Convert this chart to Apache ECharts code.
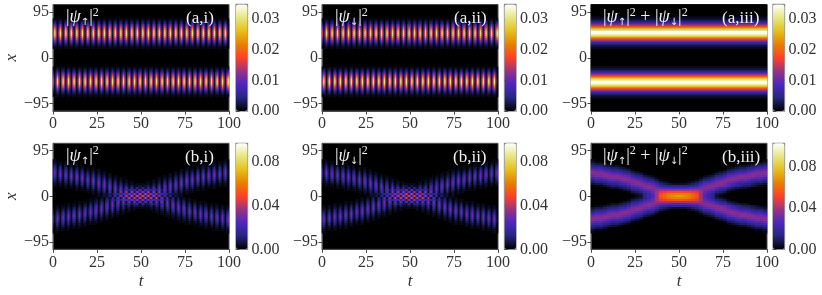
<!DOCTYPE html>
<html><head><meta charset="utf-8"><style>html,body{margin:0;background:#fff}#c{width:822px;height:295px}</style>
<script src="https://cdn.jsdelivr.net/npm/echarts@6/dist/echarts.min.js"></script></head><body><div id="c"></div><script>
const cmrMap=['#000000','#262680','#4D26BF','#993380','#FF4026','#E68000','#E6BF1A','#E6E680','#FFFFFF'];
const tickT=[0,25,50,75,100], tickX=[-95,0,95];
const tickBarA=[0,0.01,0.02,0.03], tickBarB=[0,0.04,0.08];
const unitA=0.001, unitB=0.0025;
const maxA=0.0347, maxB=0.0972, maxBSum=0.103;
// each character is one cell, base 36, in units of unitA or unitB
const sumAColumn="000000000000"+"1122457adgjnruwyyywurnjgda7542211"+"00000000000000000"+"1122457adgjnruwyyywurnjgda7542211"+"000000000000";
const sumBRows=["","","","","","","","",
"1000000000000000000000 0000000000000000000001",
"2110000000000000000000 0000000000000000000112",
"4332100000000000000000 0000000000000000012334",
"6554322100000000000000 0000000000000012234556",
"9886544321000000000000 0000000000001234456889",
"cbb9866543100000000000 0000000000013456689bbc",
"eddcb99865321000000000 0000000001235 6899bcdde",
"eeeedccb98543100000000 00000000134589bccdeeee",
"cddeeeedcb865321000000 000000123568bcdeeeeddc",
"9bbcdeeeedb98543100000 00000134589bdeeeedcbb9",
"6889bccdeedcb865310000 000013568bcdeedccb9886",
"4556899bcdeedb98532100 00123589bdeedcb9986554",
"233456689bdeedcb854322 223458bcdeedb986654332",
"0112344568bcdeedb87666 66678bdeeedcb865443211",
"000012234589bdeedcbbaa aabbcdeedb985432210000",
"0000000123568bcdfggggg gggggfdcb8653210000000",
"00000000013458acgjkllm mllkjgca85431000000000",
"000000000012368bglnpqq qqpnlgb863210000000000",
"000000000001268agmoqrs srqomga86210000000000 0",
"000000000012368bglnpqq qqpnlgb863210000000000",
"00000000013458acgjkllm mllkjgca85431000000000",
"0000000123568bcdfggggg gggggfdcb8653210000000",
"000012234589bdeedcbbaa aabbcdeedb985432210000",
"0112344568bcdeedb87666 66678bdeeedcb865443211",
"233456689bdeedcb854322 223458bcdeedb986654332",
"4556899bcdeedb98532100 00123589bdeedcb9986554",
"6889bccdeedcb865310000 000013568bcdeedccb9886",
"9bbcdeeeedb98543100000 00000134589bdeeeedcbb9",
"cddeeeedcb865321000000 000000123568bcdeeeeddc",
"eeeedccb98543100000000 00000000134589bccdeeee",
"eddcb99865321000000000 0000000001235 6899bcdde",
"cbb9866543100000000000 0000000000013456689bbc",
"9886544321000000000000 0000000000001234456889",
"6554322100000000000000 0000000000000012234556",
"4332100000000000000000 0000000000000000012334",
"2110000000000000000000 0000000000000000000112",
"1000000000000000000000 0000000000000000000001",
"","","","","","","",""];
const psiUpA=["","","","","","","",
"1110 1110 1110 1110 1110 1110 1110 1110 1110 1110 1110 1110 1110 1110 1110 1110 1110 1110 1110 1110 1110 1110 1110 1110 1110 1110 1110 1110 1110 1110 1110 1110",
"2320 2320 2320 2320 2320 2320 2320 2320 2320 2320 2320 2320 2320 2320 2320 2320 2320 2320 2320 2320 2320 2320 2320 2320 2320 2320 2320 2320 2320 2320 2320 2320",
"3730 3730 3730 3730 3730 3730 3730 3730 3730 3730 3730 3730 3730 3730 3730 3730 3730 3730 3730 3730 3730 3730 3730 3730 3730 3730 3730 3730 3730 3730 3730 3730",
"6c60 6c60 6c60 6c60 6c60 6c60 6c60 6c60 6c60 6c60 6c60 6c60 6c60 6c60 6c60 6c60 6c60 6c60 6c60 6c60 6c60 6c60 6c60 6c60 6c60 6c60 6c60 6c60 6c60 6c60 6c60 6c60",
"9i91 9i91 9i91 9i91 9i91 9i91 9i91 9i91 9i91 9i91 9i91 9i91 9i91 9i91 9i91 9i91 9i91 9i91 9i91 9i91 9i91 9i91 9i91 9i91 9i91 9i91 9i91 9i91 9i91 9i91 9i91 9i91",
"coc1 coc1 coc1 coc1 coc1 coc1 coc1 coc1 coc1 coc1 coc1 coc1 coc1 coc1 coc1 coc1 coc1 coc1 coc1 coc1 coc1 coc1 coc1 coc1 coc1 coc1 coc1 coc1 coc1 coc1 coc1 coc1",
"ete2 ete2 ete2 ete2 ete2 ete2 ete2 ete2 ete2 ete2 ete2 ete2 ete2 ete2 ete2 ete2 ete2 ete2 ete2 ete2 ete2 ete2 ete2 ete2 ete2 ete2 ete2 ete2 ete2 ete2 ete2 ete2",
"fvf2 fvf2 fvf2 fvf2 fvf2 fvf2 fvf2 fvf2 fvf2 fvf2 fvf2 fvf2 fvf2 fvf2 fvf2 fvf2 fvf2 fvf2 fvf2 fvf2 fvf2 fvf2 fvf2 fvf2 fvf2 fvf2 fvf2 fvf2 fvf2 fvf2 fvf2 fvf2",
"ete2 ete2 ete2 ete2 ete2 ete2 ete2 ete2 ete2 ete2 ete2 ete2 ete2 ete2 ete2 ete2 ete2 ete2 ete2 ete2 ete2 ete2 ete2 ete2 ete2 ete2 ete2 ete2 ete2 ete2 ete2 ete2",
"coc1 coc1 coc1 coc1 coc1 coc1 coc1 coc1 coc1 coc1 coc1 coc1 coc1 coc1 coc1 coc1 coc1 coc1 coc1 coc1 coc1 coc1 coc1 coc1 coc1 coc1 coc1 coc1 coc1 coc1 coc1 coc1",
"9i91 9i91 9i91 9i91 9i91 9i91 9i91 9i91 9i91 9i91 9i91 9i91 9i91 9i91 9i91 9i91 9i91 9i91 9i91 9i91 9i91 9i91 9i91 9i91 9i91 9i91 9i91 9i91 9i91 9i91 9i91 9i91",
"6c60 6c60 6c60 6c60 6c60 6c60 6c60 6c60 6c60 6c60 6c60 6c60 6c60 6c60 6c60 6c60 6c60 6c60 6c60 6c60 6c60 6c60 6c60 6c60 6c60 6c60 6c60 6c60 6c60 6c60 6c60 6c60",
"3730 3730 3730 3730 3730 3730 3730 3730 3730 3730 3730 3730 3730 3730 3730 3730 3730 3730 3730 3730 3730 3730 3730 3730 3730 3730 3730 3730 3730 3730 3730 3730",
"2320 2320 2320 2320 2320 2320 2320 2320 2320 2320 2320 2320 2320 2320 2320 2320 2320 2320 2320 2320 2320 2320 2320 2320 2320 2320 2320 2320 2320 2320 2320 2320",
"1110 1110 1110 1110 1110 1110 1110 1110 1110 1110 1110 1110 1110 1110 1110 1110 1110 1110 1110 1110 1110 1110 1110 1110 1110 1110 1110 1110 1110 1110 1110 1110",
"","","","","","","","","",
"1011 1011 1011 1011 1011 1011 1011 1011 1011 1011 1011 1011 1011 1011 1011 1011 1011 1011 1011 1011 1011 1011 1011 1011 1011 1011 1011 1011 1011 1011 1011 1011",
"2023 2023 2023 2023 2023 2023 2023 2023 2023 2023 2023 2023 2023 2023 2023 2023 2023 2023 2023 2023 2023 2023 2023 2023 2023 2023 2023 2023 2023 2023 2023 2023",
"3037 3037 3037 3037 3037 3037 3037 3037 3037 3037 3037 3037 3037 3037 3037 3037 3037 3037 3037 3037 3037 3037 3037 3037 3037 3037 3037 3037 3037 3037 3037 3037",
"606c 606c 606c 606c 606c 606c 606c 606c 606c 606c 606c 606c 606c 606c 606c 606c 606c 606c 606c 606c 606c 606c 606c 606c 606c 606c 606c 606c 606c 606c 606c 606c",
"919i 919i 919i 919i 919i 919i 919i 919i 919i 919i 919i 919i 919i 919i 919i 919i 919i 919i 919i 919i 919i 919i 919i 919i 919i 919i 919i 919i 919i 919i 919i 919i",
"c1co c1co c1co c1co c1co c1co c1co c1co c1co c1co c1co c1co c1co c1co c1co c1co c1co c1co c1co c1co c1co c1co c1co c1co c1co c1co c1co c1co c1co c1co c1co c1co",
"e2et e2et e2et e2et e2et e2et e2et e2et e2et e2et e2et e2et e2et e2et e2et e2et e2et e2et e2et e2et e2et e2et e2et e2et e2et e2et e2et e2et e2et e2et e2et e2et",
"f2fv f2fv f2fv f2fv f2fv f2fv f2fv f2fv f2fv f2fv f2fv f2fv f2fv f2fv f2fv f2fv f2fv f2fv f2fv f2fv f2fv f2fv f2fv f2fv f2fv f2fv f2fv f2fv f2fv f2fv f2fv f2fv",
"e2et e2et e2et e2et e2et e2et e2et e2et e2et e2et e2et e2et e2et e2et e2et e2et e2et e2et e2et e2et e2et e2et e2et e2et e2et e2et e2et e2et e2et e2et e2et e2et",
"c1co c1co c1co c1co c1co c1co c1co c1co c1co c1co c1co c1co c1co c1co c1co c1co c1co c1co c1co c1co c1co c1co c1co c1co c1co c1co c1co c1co c1co c1co c1co c1co",
"919i 919i 919i 919i 919i 919i 919i 919i 919i 919i 919i 919i 919i 919i 919i 919i 919i 919i 919i 919i 919i 919i 919i 919i 919i 919i 919i 919i 919i 919i 919i 919i",
"606c 606c 606c 606c 606c 606c 606c 606c 606c 606c 606c 606c 606c 606c 606c 606c 606c 606c 606c 606c 606c 606c 606c 606c 606c 606c 606c 606c 606c 606c 606c 606c",
"3037 3037 3037 3037 3037 3037 3037 3037 3037 3037 3037 3037 3037 3037 3037 3037 3037 3037 3037 3037 3037 3037 3037 3037 3037 3037 3037 3037 3037 3037 3037 3037",
"2023 2023 2023 2023 2023 2023 2023 2023 2023 2023 2023 2023 2023 2023 2023 2023 2023 2023 2023 2023 2023 2023 2023 2023 2023 2023 2023 2023 2023 2023 2023 2023",
"1011 1011 1011 1011 1011 1011 1011 1011 1011 1011 1011 1011 1011 1011 1011 1011 1011 1011 1011 1011 1011 1011 1011 1011 1011 1011 1011 1011 1011 1011 1011 1011",
"","","","","","",""];
const psiDownA=["","","","","","","",
"1011 1011 1011 1011 1011 1011 1011 1011 1011 1011 1011 1011 1011 1011 1011 1011 1011 1011 1011 1011 1011 1011 1011 1011 1011 1011 1011 1011 1011 1011 1011 1011",
"2023 2023 2023 2023 2023 2023 2023 2023 2023 2023 2023 2023 2023 2023 2023 2023 2023 2023 2023 2023 2023 2023 2023 2023 2023 2023 2023 2023 2023 2023 2023 2023",
"3037 3037 3037 3037 3037 3037 3037 3037 3037 3037 3037 3037 3037 3037 3037 3037 3037 3037 3037 3037 3037 3037 3037 3037 3037 3037 3037 3037 3037 3037 3037 3037",
"606c 606c 606c 606c 606c 606c 606c 606c 606c 606c 606c 606c 606c 606c 606c 606c 606c 606c 606c 606c 606c 606c 606c 606c 606c 606c 606c 606c 606c 606c 606c 606c",
"919i 919i 919i 919i 919i 919i 919i 919i 919i 919i 919i 919i 919i 919i 919i 919i 919i 919i 919i 919i 919i 919i 919i 919i 919i 919i 919i 919i 919i 919i 919i 919i",
"c1co c1co c1co c1co c1co c1co c1co c1co c1co c1co c1co c1co c1co c1co c1co c1co c1co c1co c1co c1co c1co c1co c1co c1co c1co c1co c1co c1co c1co c1co c1co c1co",
"e2et e2et e2et e2et e2et e2et e2et e2et e2et e2et e2et e2et e2et e2et e2et e2et e2et e2et e2et e2et e2et e2et e2et e2et e2et e2et e2et e2et e2et e2et e2et e2et",
"f2fv f2fv f2fv f2fv f2fv f2fv f2fv f2fv f2fv f2fv f2fv f2fv f2fv f2fv f2fv f2fv f2fv f2fv f2fv f2fv f2fv f2fv f2fv f2fv f2fv f2fv f2fv f2fv f2fv f2fv f2fv f2fv",
"e2et e2et e2et e2et e2et e2et e2et e2et e2et e2et e2et e2et e2et e2et e2et e2et e2et e2et e2et e2et e2et e2et e2et e2et e2et e2et e2et e2et e2et e2et e2et e2et",
"c1co c1co c1co c1co c1co c1co c1co c1co c1co c1co c1co c1co c1co c1co c1co c1co c1co c1co c1co c1co c1co c1co c1co c1co c1co c1co c1co c1co c1co c1co c1co c1co",
"919i 919i 919i 919i 919i 919i 919i 919i 919i 919i 919i 919i 919i 919i 919i 919i 919i 919i 919i 919i 919i 919i 919i 919i 919i 919i 919i 919i 919i 919i 919i 919i",
"606c 606c 606c 606c 606c 606c 606c 606c 606c 606c 606c 606c 606c 606c 606c 606c 606c 606c 606c 606c 606c 606c 606c 606c 606c 606c 606c 606c 606c 606c 606c 606c",
"3037 3037 3037 3037 3037 3037 3037 3037 3037 3037 3037 3037 3037 3037 3037 3037 3037 3037 3037 3037 3037 3037 3037 3037 3037 3037 3037 3037 3037 3037 3037 3037",
"2023 2023 2023 2023 2023 2023 2023 2023 2023 2023 2023 2023 2023 2023 2023 2023 2023 2023 2023 2023 2023 2023 2023 2023 2023 2023 2023 2023 2023 2023 2023 2023",
"1011 1011 1011 1011 1011 1011 1011 1011 1011 1011 1011 1011 1011 1011 1011 1011 1011 1011 1011 1011 1011 1011 1011 1011 1011 1011 1011 1011 1011 1011 1011 1011",
"","","","","","","","","",
"1110 1110 1110 1110 1110 1110 1110 1110 1110 1110 1110 1110 1110 1110 1110 1110 1110 1110 1110 1110 1110 1110 1110 1110 1110 1110 1110 1110 1110 1110 1110 1110",
"2320 2320 2320 2320 2320 2320 2320 2320 2320 2320 2320 2320 2320 2320 2320 2320 2320 2320 2320 2320 2320 2320 2320 2320 2320 2320 2320 2320 2320 2320 2320 2320",
"3730 3730 3730 3730 3730 3730 3730 3730 3730 3730 3730 3730 3730 3730 3730 3730 3730 3730 3730 3730 3730 3730 3730 3730 3730 3730 3730 3730 3730 3730 3730 3730",
"6c60 6c60 6c60 6c60 6c60 6c60 6c60 6c60 6c60 6c60 6c60 6c60 6c60 6c60 6c60 6c60 6c60 6c60 6c60 6c60 6c60 6c60 6c60 6c60 6c60 6c60 6c60 6c60 6c60 6c60 6c60 6c60",
"9i91 9i91 9i91 9i91 9i91 9i91 9i91 9i91 9i91 9i91 9i91 9i91 9i91 9i91 9i91 9i91 9i91 9i91 9i91 9i91 9i91 9i91 9i91 9i91 9i91 9i91 9i91 9i91 9i91 9i91 9i91 9i91",
"coc1 coc1 coc1 coc1 coc1 coc1 coc1 coc1 coc1 coc1 coc1 coc1 coc1 coc1 coc1 coc1 coc1 coc1 coc1 coc1 coc1 coc1 coc1 coc1 coc1 coc1 coc1 coc1 coc1 coc1 coc1 coc1",
"ete2 ete2 ete2 ete2 ete2 ete2 ete2 ete2 ete2 ete2 ete2 ete2 ete2 ete2 ete2 ete2 ete2 ete2 ete2 ete2 ete2 ete2 ete2 ete2 ete2 ete2 ete2 ete2 ete2 ete2 ete2 ete2",
"fvf2 fvf2 fvf2 fvf2 fvf2 fvf2 fvf2 fvf2 fvf2 fvf2 fvf2 fvf2 fvf2 fvf2 fvf2 fvf2 fvf2 fvf2 fvf2 fvf2 fvf2 fvf2 fvf2 fvf2 fvf2 fvf2 fvf2 fvf2 fvf2 fvf2 fvf2 fvf2",
"ete2 ete2 ete2 ete2 ete2 ete2 ete2 ete2 ete2 ete2 ete2 ete2 ete2 ete2 ete2 ete2 ete2 ete2 ete2 ete2 ete2 ete2 ete2 ete2 ete2 ete2 ete2 ete2 ete2 ete2 ete2 ete2",
"coc1 coc1 coc1 coc1 coc1 coc1 coc1 coc1 coc1 coc1 coc1 coc1 coc1 coc1 coc1 coc1 coc1 coc1 coc1 coc1 coc1 coc1 coc1 coc1 coc1 coc1 coc1 coc1 coc1 coc1 coc1 coc1",
"9i91 9i91 9i91 9i91 9i91 9i91 9i91 9i91 9i91 9i91 9i91 9i91 9i91 9i91 9i91 9i91 9i91 9i91 9i91 9i91 9i91 9i91 9i91 9i91 9i91 9i91 9i91 9i91 9i91 9i91 9i91 9i91",
"6c60 6c60 6c60 6c60 6c60 6c60 6c60 6c60 6c60 6c60 6c60 6c60 6c60 6c60 6c60 6c60 6c60 6c60 6c60 6c60 6c60 6c60 6c60 6c60 6c60 6c60 6c60 6c60 6c60 6c60 6c60 6c60",
"3730 3730 3730 3730 3730 3730 3730 3730 3730 3730 3730 3730 3730 3730 3730 3730 3730 3730 3730 3730 3730 3730 3730 3730 3730 3730 3730 3730 3730 3730 3730 3730",
"2320 2320 2320 2320 2320 2320 2320 2320 2320 2320 2320 2320 2320 2320 2320 2320 2320 2320 2320 2320 2320 2320 2320 2320 2320 2320 2320 2320 2320 2320 2320 2320",
"1110 1110 1110 1110 1110 1110 1110 1110 1110 1110 1110 1110 1110 1110 1110 1110 1110 1110 1110 1110 1110 1110 1110 1110 1110 1110 1110 1110 1110 1110 1110 1110",
"","","","","","",""];
const psiUpB=["","","","","","","","",
"1110 0000 0000 0000 0000 0000 0000 0000 0000 0000 0000 0000 0000 0000 0000 0000 0000 0000 0000 0000 0000 0000 0000 0000 0000 0000 0000 0000 0000 0000 0000 1110",
"1210 1110 1110 0000 0000 0000 0000 0000 0000 0000 0000 0000 0000 0000 0000 0000 0000 0000 0000 0000 0000 0000 0000 0000 0000 0000 0000 0000 0000 1110 1110 1210",
"2320 1210 1210 1110 1110 0000 0000 0000 0000 0000 0000 0000 0000 0000 0000 0000 0000 0000 0000 0000 0000 0000 0000 0000 0000 0000 0000 1110 1110 1210 1210 2320",
"3530 2420 2320 1210 1210 1110 0000 0000 0000 0000 0000 0000 0000 0000 0000 0000 0000 0000 0000 0000 0000 0000 0000 0000 0000 0000 1110 1210 1210 2320 2420 3530",
"4840 3730 3530 2420 2320 1210 1110 1110 0000 0000 0000 0000 0000 0000 0000 0000 0000 0000 0000 0000 0000 0000 0000 0000 1110 1110 1210 2320 2420 3530 3730 4840",
"5a51 4941 4840 3730 3530 2420 1210 1210 1110 0000 0000 0000 0000 0000 0000 0000 0000 0000 0000 0000 0000 0000 0000 1110 1210 1210 2420 3530 3730 4840 4941 5a51",
"6c61 5b51 5a51 4941 4840 3730 2420 2320 1210 1110 0000 0000 0000 0000 0000 0000 0000 0000 0000 0000 0000 0000 1110 1210 2320 2420 3730 4840 4941 5a51 5b51 6c61",
"6c61 6c61 6c61 5b51 5a51 4941 3730 3530 2320 1210 1110 0000 0000 0000 0000 0000 0000 0000 0000 0000 0000 1110 1210 2320 3530 3730 4941 5a51 5b51 6c61 6c61 6c61",
"5a51 5b51 6c61 6c61 6c61 5b51 4941 4840 3530 2320 1210 1110 0000 0000 0000 0000 0000 0000 0000 0000 1110 1210 2320 3530 4840 4941 5b51 6c61 6c61 6c61 5b51 5a51",
"4840 4941 5a51 5b51 6c61 6c61 5b51 5a51 4840 3530 2320 1210 1110 0000 0000 0000 0000 0000 0000 1110 1210 2320 3530 4840 5a51 5b51 6c61 6c61 5b51 5a51 4941 4840",
"3530 3730 4840 4941 5a51 5b51 6c61 6c61 5a51 4840 3530 2320 1210 1110 0000 0000 0000 0000 1110 1210 2320 3530 4840 5a51 6c61 6c61 5b51 5a51 4941 4840 3730 3530",
"2320 2420 3530 3730 4840 4941 5b51 6c61 6c61 5a51 4840 3530 2320 1210 1110 0000 0000 1110 1210 2320 3530 4840 5a51 6c61 6c61 5b51 4941 4840 3730 3530 2420 2320",
"1210 1210 2320 2420 3530 3730 4941 5a51 6c61 6c61 5a51 4840 3530 2320 1210 1111 1111 1210 2320 3530 4840 5a51 6c61 6c61 5a51 4941 3730 3530 2420 2320 1210 1210",
"1110 1110 1210 1210 2320 2420 3730 4840 5a51 6c61 6c61 5a51 4840 3531 2421 2123 2123 2421 3531 4840 5a51 6c61 6c61 5a51 4840 3730 2420 2320 1210 1210 1110 1110",
"0000 0000 1110 1110 1210 1210 2420 3530 4840 5a51 6c61 6c61 5b50 5951 4841 4741 4741 4841 5951 5b50 6c61 6c61 5a51 4840 3530 2420 1210 1210 1110 1110 0000 0000",
"0000 0000 0000 0000 1110 1110 1210 2320 3530 4840 5a51 6b62 7b73 6865 6667 727c 727c 6667 6865 7b73 6b62 5a51 4840 3530 2320 1210 1110 1110 0000 0000 0000 0000",
"0000 0000 0000 0000 0000 0000 1110 1210 2320 3530 4940 6b61 7e71 8g81 9g92 9f93 9f93 9g92 8g81 7e71 6b61 4940 3530 2320 1210 1110 0000 0000 0000 0000 0000 0000",
"0000 0000 0000 0000 0000 0000 0000 1110 1210 2222 3433 5655 7679 a6ae a6af b3bj b3bj a6af a6ae 7679 5655 3433 2222 1210 1110 0000 0000 0000 0000 0000 0000 0000",
"0000 0000 0000 0000 0000 0000 0000 0000 1210 2321 3531 5852 8e82 aha3 bjb3 ckc4 ckc4 bjb3 aha3 8e82 5852 3531 2321 1210 0000 0000 0000 0000 0000 0000 0000 0000",
"0000 0000 0000 0000 0000 0000 0000 1011 1012 2024 3136 515a 717e a2ai a3ai b3bj b3bj a3ai a2ai 717e 515a 3136 2024 1012 1011 0000 0000 0000 0000 0000 0000 0000",
"0000 0000 0000 0000 0000 0000 1011 1012 2023 3035 4247 6369 757a 8988 9c96 9f93 9f93 9c96 8988 757a 6369 4247 3035 2023 1012 1011 0000 0000 0000 0000 0000 0000",
"0000 0000 0000 0000 1011 1011 1012 2023 3035 4048 515a 606d 717d 616c 616c 727c 727c 616c 616c 717d 606d 515a 4048 3035 2023 1012 1011 1011 0000 0000 0000 0000",
"0000 0000 1011 1011 1012 1012 2024 3035 4048 515a 616c 616c 5259 5357 4346 4741 4741 4346 5357 5259 616c 616c 515a 4048 3035 2024 1012 1012 1011 1011 0000 0000",
"1011 1011 1012 1012 2023 2024 3037 4048 515a 616c 616c 515a 4048 3135 2124 2321 2321 2124 3135 4048 515a 616c 616c 515a 4048 3037 2024 2023 1012 1012 1011 1011",
"1012 1012 2023 2024 3035 3037 4149 515a 616c 616c 515a 4048 3035 2023 1012 1111 1111 1012 2023 3035 4048 515a 616c 616c 515a 4149 3037 3035 2024 2023 1012 1012",
"2023 2024 3035 3037 4048 4149 515b 616c 616c 515a 4048 3035 2023 1012 1011 0000 0000 1011 1012 2023 3035 4048 515a 616c 616c 515b 4149 4048 3037 3035 2024 2023",
"3035 3037 4048 4149 515a 515b 616c 616c 515a 4048 3035 2023 1012 1011 0000 0000 0000 0000 1011 1012 2023 3035 4048 515a 616c 616c 515b 515a 4149 4048 3037 3035",
"4048 4149 515a 515b 616c 616c 515b 515a 4048 3035 2023 1012 1011 0000 0000 0000 0000 0000 0000 1011 1012 2023 3035 4048 515a 515b 616c 616c 515b 515a 4149 4048",
"515a 515b 616c 616c 616c 515b 4149 4048 3035 2023 1012 1011 0000 0000 0000 0000 0000 0000 0000 0000 1011 1012 2023 3035 4048 4149 515b 616c 616c 616c 515b 515a",
"616c 616c 616c 515b 515a 4149 3037 3035 2023 1012 1011 0000 0000 0000 0000 0000 0000 0000 0000 0000 0000 1011 1012 2023 3035 3037 4149 515a 515b 616c 616c 616c",
"616c 515b 515a 4149 4048 3037 2024 2023 1012 1011 0000 0000 0000 0000 0000 0000 0000 0000 0000 0000 0000 0000 1011 1012 2023 2024 3037 4048 4149 515a 515b 616c",
"515a 4149 4048 3037 3035 2024 1012 1012 1011 0000 0000 0000 0000 0000 0000 0000 0000 0000 0000 0000 0000 0000 0000 1011 1012 1012 2024 3035 3037 4048 4149 515a",
"4048 3037 3035 2024 2023 1012 1011 1011 0000 0000 0000 0000 0000 0000 0000 0000 0000 0000 0000 0000 0000 0000 0000 0000 1011 1011 1012 2023 2024 3035 3037 4048",
"3035 2024 2023 1012 1012 1011 0000 0000 0000 0000 0000 0000 0000 0000 0000 0000 0000 0000 0000 0000 0000 0000 0000 0000 0000 0000 1011 1012 1012 2023 2024 3035",
"2023 1012 1012 1011 1011 0000 0000 0000 0000 0000 0000 0000 0000 0000 0000 0000 0000 0000 0000 0000 0000 0000 0000 0000 0000 0000 0000 1011 1011 1012 1012 2023",
"1012 1011 1011 0000 0000 0000 0000 0000 0000 0000 0000 0000 0000 0000 0000 0000 0000 0000 0000 0000 0000 0000 0000 0000 0000 0000 0000 0000 0000 1011 1011 1012",
"1011 0000 0000 0000 0000 0000 0000 0000 0000 0000 0000 0000 0000 0000 0000 0000 0000 0000 0000 0000 0000 0000 0000 0000 0000 0000 0000 0000 0000 0000 0000 1011",
"","","","","","","",""];
const psiDownB=["","","","","","","","",
"1011 0000 0000 0000 0000 0000 0000 0000 0000 0000 0000 0000 0000 0000 0000 0000 0000 0000 0000 0000 0000 0000 0000 0000 0000 0000 0000 0000 0000 0000 0000 1011",
"1012 1011 1011 0000 0000 0000 0000 0000 0000 0000 0000 0000 0000 0000 0000 0000 0000 0000 0000 0000 0000 0000 0000 0000 0000 0000 0000 0000 0000 1011 1011 1012",
"2023 1012 1012 1011 1011 0000 0000 0000 0000 0000 0000 0000 0000 0000 0000 0000 0000 0000 0000 0000 0000 0000 0000 0000 0000 0000 0000 1011 1011 1012 1012 2023",
"3035 2024 2023 1012 1012 1011 0000 0000 0000 0000 0000 0000 0000 0000 0000 0000 0000 0000 0000 0000 0000 0000 0000 0000 0000 0000 1011 1012 1012 2023 2024 3035",
"4048 3037 3035 2024 2023 1012 1011 1011 0000 0000 0000 0000 0000 0000 0000 0000 0000 0000 0000 0000 0000 0000 0000 0000 1011 1011 1012 2023 2024 3035 3037 4048",
"515a 4149 4048 3037 3035 2024 1012 1012 1011 0000 0000 0000 0000 0000 0000 0000 0000 0000 0000 0000 0000 0000 0000 1011 1012 1012 2024 3035 3037 4048 4149 515a",
"616c 515b 515a 4149 4048 3037 2024 2023 1012 1011 0000 0000 0000 0000 0000 0000 0000 0000 0000 0000 0000 0000 1011 1012 2023 2024 3037 4048 4149 515a 515b 616c",
"616c 616c 616c 515b 515a 4149 3037 3035 2023 1012 1011 0000 0000 0000 0000 0000 0000 0000 0000 0000 0000 1011 1012 2023 3035 3037 4149 515a 515b 616c 616c 616c",
"515a 515b 616c 616c 616c 515b 4149 4048 3035 2023 1012 1011 0000 0000 0000 0000 0000 0000 0000 0000 1011 1012 2023 3035 4048 4149 515b 616c 616c 616c 515b 515a",
"4048 4149 515a 515b 616c 616c 515b 515a 4048 3035 2023 1012 1011 0000 0000 0000 0000 0000 0000 1011 1012 2023 3035 4048 515a 515b 616c 616c 515b 515a 4149 4048",
"3035 3037 4048 4149 515a 515b 616c 616c 515a 4048 3035 2023 1012 1011 0000 0000 0000 0000 1011 1012 2023 3035 4048 515a 616c 616c 515b 515a 4149 4048 3037 3035",
"2023 2024 3035 3037 4048 4149 515b 616c 616c 515a 4048 3035 2023 1012 1011 0000 0000 1011 1012 2023 3035 4048 515a 616c 616c 515b 4149 4048 3037 3035 2024 2023",
"1012 1012 2023 2024 3035 3037 4149 515a 616c 616c 515a 4048 3035 2023 1012 1111 1111 1012 2023 3035 4048 515a 616c 616c 515a 4149 3037 3035 2024 2023 1012 1012",
"1011 1011 1012 1012 2023 2024 3037 4048 515a 616c 616c 515a 4048 3135 2124 2321 2321 2124 3135 4048 515a 616c 616c 515a 4048 3037 2024 2023 1012 1012 1011 1011",
"0000 0000 1011 1011 1012 1012 2024 3035 4048 515a 616c 616c 505b 5159 4148 4147 4147 4148 5159 505b 616c 616c 515a 4048 3035 2024 1012 1012 1011 1011 0000 0000",
"0000 0000 0000 0000 1011 1011 1012 2023 3035 4048 515a 626b 737b 6568 6766 7c72 7c72 6766 6568 737b 626b 515a 4048 3035 2023 1012 1011 1011 0000 0000 0000 0000",
"0000 0000 0000 0000 0000 0000 1011 1012 2023 3035 4049 616b 717e 818g 929g 939f 939f 929g 818g 717e 616b 4049 3035 2023 1012 1011 0000 0000 0000 0000 0000 0000",
"0000 0000 0000 0000 0000 0000 0000 1011 1012 2222 3334 5556 7976 aea6 afa6 bjb3 bjb3 afa6 aea6 7976 5556 3334 2222 1012 1011 0000 0000 0000 0000 0000 0000 0000",
"0000 0000 0000 0000 0000 0000 0000 0000 1012 2123 3135 5258 828e a3ah b3bj c4ck c4ck b3bj a3ah 828e 5258 3135 2123 1012 0000 0000 0000 0000 0000 0000 0000 0000",
"0000 0000 0000 0000 0000 0000 0000 1110 1210 2420 3631 5a51 7e71 aia2 aia3 bjb3 bjb3 aia3 aia2 7e71 5a51 3631 2420 1210 1110 0000 0000 0000 0000 0000 0000 0000",
"0000 0000 0000 0000 0000 0000 1110 1210 2320 3530 4742 6963 7a75 8889 969c 939f 939f 969c 8889 7a75 6963 4742 3530 2320 1210 1110 0000 0000 0000 0000 0000 0000",
"0000 0000 0000 0000 1110 1110 1210 2320 3530 4840 5a51 6d60 7d71 6c61 6c61 7c72 7c72 6c61 6c61 7d71 6d60 5a51 4840 3530 2320 1210 1110 1110 0000 0000 0000 0000",
"0000 0000 1110 1110 1210 1210 2420 3530 4840 5a51 6c61 6c61 5952 5753 4643 4147 4147 4643 5753 5952 6c61 6c61 5a51 4840 3530 2420 1210 1210 1110 1110 0000 0000",
"1110 1110 1210 1210 2320 2420 3730 4840 5a51 6c61 6c61 5a51 4840 3531 2421 2123 2123 2421 3531 4840 5a51 6c61 6c61 5a51 4840 3730 2420 2320 1210 1210 1110 1110",
"1210 1210 2320 2420 3530 3730 4941 5a51 6c61 6c61 5a51 4840 3530 2320 1210 1111 1111 1210 2320 3530 4840 5a51 6c61 6c61 5a51 4941 3730 3530 2420 2320 1210 1210",
"2320 2420 3530 3730 4840 4941 5b51 6c61 6c61 5a51 4840 3530 2320 1210 1110 0000 0000 1110 1210 2320 3530 4840 5a51 6c61 6c61 5b51 4941 4840 3730 3530 2420 2320",
"3530 3730 4840 4941 5a51 5b51 6c61 6c61 5a51 4840 3530 2320 1210 1110 0000 0000 0000 0000 1110 1210 2320 3530 4840 5a51 6c61 6c61 5b51 5a51 4941 4840 3730 3530",
"4840 4941 5a51 5b51 6c61 6c61 5b51 5a51 4840 3530 2320 1210 1110 0000 0000 0000 0000 0000 0000 1110 1210 2320 3530 4840 5a51 5b51 6c61 6c61 5b51 5a51 4941 4840",
"5a51 5b51 6c61 6c61 6c61 5b51 4941 4840 3530 2320 1210 1110 0000 0000 0000 0000 0000 0000 0000 0000 1110 1210 2320 3530 4840 4941 5b51 6c61 6c61 6c61 5b51 5a51",
"6c61 6c61 6c61 5b51 5a51 4941 3730 3530 2320 1210 1110 0000 0000 0000 0000 0000 0000 0000 0000 0000 0000 1110 1210 2320 3530 3730 4941 5a51 5b51 6c61 6c61 6c61",
"6c61 5b51 5a51 4941 4840 3730 2420 2320 1210 1110 0000 0000 0000 0000 0000 0000 0000 0000 0000 0000 0000 0000 1110 1210 2320 2420 3730 4840 4941 5a51 5b51 6c61",
"5a51 4941 4840 3730 3530 2420 1210 1210 1110 0000 0000 0000 0000 0000 0000 0000 0000 0000 0000 0000 0000 0000 0000 1110 1210 1210 2420 3530 3730 4840 4941 5a51",
"4840 3730 3530 2420 2320 1210 1110 1110 0000 0000 0000 0000 0000 0000 0000 0000 0000 0000 0000 0000 0000 0000 0000 0000 1110 1110 1210 2320 2420 3530 3730 4840",
"3530 2420 2320 1210 1210 1110 0000 0000 0000 0000 0000 0000 0000 0000 0000 0000 0000 0000 0000 0000 0000 0000 0000 0000 0000 0000 1110 1210 1210 2320 2420 3530",
"2320 1210 1210 1110 1110 0000 0000 0000 0000 0000 0000 0000 0000 0000 0000 0000 0000 0000 0000 0000 0000 0000 0000 0000 0000 0000 0000 1110 1110 1210 1210 2320",
"1210 1110 1110 0000 0000 0000 0000 0000 0000 0000 0000 0000 0000 0000 0000 0000 0000 0000 0000 0000 0000 0000 0000 0000 0000 0000 0000 0000 0000 1110 1110 1210",
"1110 0000 0000 0000 0000 0000 0000 0000 0000 0000 0000 0000 0000 0000 0000 0000 0000 0000 0000 0000 0000 0000 0000 0000 0000 0000 0000 0000 0000 0000 0000 1110",
"","","","","","","",""];
const labUp='{n||}{m|ψ}{s|↑}{n||}{u|2}', labDown='{n||}{m|ψ}{s|↓}{n||}{u|2}', labSum=labUp+'{n| + }'+labDown;
const panels=[
 {rows:psiUpA,cols:128,unit:unitA,max:maxA,ticks:tickBarA,left:53,bar:236,top:4.5,h:106.5,lab:labUp,tag:'(a,i)',lx:66,tx:186,name:true},
 {rows:psiDownA,cols:128,unit:unitA,max:maxA,ticks:tickBarA,left:322,bar:504.5,top:4.5,h:106.5,lab:labDown,tag:'(a,ii)',lx:335,tx:454},
 {rows:[...sumAColumn],cols:1,unit:unitA,max:maxA,ticks:tickBarA,left:591,bar:773,top:4.5,h:106.5,lab:labSum,tag:'(a,iii)',lx:603,tx:722},
 {rows:psiUpB,cols:128,unit:unitB,max:maxB,ticks:tickBarB,left:53,bar:236,top:143.3,h:106,lab:labUp,tag:'(b,i)',lx:66,tx:185,name:true,t:true},
 {rows:psiDownB,cols:128,unit:unitB,max:maxB,ticks:tickBarB,left:322,bar:504.5,top:143.3,h:106,lab:labDown,tag:'(b,ii)',lx:335,tx:453,t:true},
 {rows:sumBRows,cols:44,unit:unitB,max:maxBSum,ticks:tickBarB,left:591,bar:773,top:143.3,h:106,lab:labSum,tag:'(b,iii)',lx:603,tx:722,t:true}
];
const W=176, BW=11.5, ink='#333', frame='#4a4a4a', labFont='Liberation Serif', white='#f0f0f0';
const grid=[],xAxis=[],yAxis=[],series=[],visualMap=[],title=[];
const rich={n:{fontFamily:labFont,fontWeight:'normal',fontSize:18,color:white,lineHeight:24},m:{fontFamily:labFont,fontWeight:'normal',fontStyle:'italic',fontSize:18,color:white,lineHeight:24},s:{fontFamily:'DejaVu Sans',fontWeight:'normal',fontSize:10,color:white,verticalAlign:'bottom',height:14},u:{fontFamily:labFont,fontWeight:'normal',fontSize:12,color:white,verticalAlign:'top',height:14}};
const axisCommon=(vals,fmt,margin)=>({type:'value',axisLine:{show:true,onZero:false,lineStyle:{color:frame,width:1}},axisTick:{show:true,length:3.5,customValues:vals,lineStyle:{color:frame,width:1}},axisLabel:{customValues:vals,color:ink,fontFamily:labFont,fontSize:16,margin,formatter:fmt},splitLine:{show:false}});
const minus=v=>String(v).replace('-','\u2212');
panels.forEach((p,i)=>{
 const g=grid.length;
 grid.push({left:p.left,top:p.top,width:W,height:p.h,show:true,backgroundColor:'#000',borderColor:frame,borderWidth:1});
 const cx=xAxis.length;
 xAxis.push({type:'category',gridIndex:g,show:false,data:Array.from({length:p.cols},(_,k)=>k)});
 xAxis.push(Object.assign(axisCommon(tickT,v=>v,5),{gridIndex:g,min:0,max:100,position:'bottom',name:p.t?'t':'',nameLocation:'middle',nameGap:24,nameTextStyle:{fontFamily:labFont,fontStyle:'italic',fontSize:17,color:ink}}));
 const cy=yAxis.length;
 yAxis.push({type:'category',gridIndex:g,show:false,inverse:true,data:p.rows.map((_,k)=>k)});
 yAxis.push(Object.assign(axisCommon(tickX,minus,4),{gridIndex:g,min:-110,max:110,position:'left',name:p.name?'x':'',nameLocation:'middle',nameRotate:90,nameGap:32,nameTextStyle:{fontFamily:labFont,fontStyle:'italic',fontSize:17,color:ink}}));
 const data=[];
 p.rows.forEach((row,r)=>{const cells=row.replace(/ /g,'');for(let c=0;c<cells.length;c++)data.push([c,r,parseInt(cells[c],36)*p.unit]);});
 series.push({type:'heatmap',xAxisIndex:cx,yAxisIndex:cy,data,progressive:0,animation:false,silent:true,itemStyle:{borderWidth:0},emphasis:{disabled:true}});
 visualMap.push({type:'continuous',seriesIndex:i,min:0,max:p.max,left:p.bar,top:p.top,itemWidth:BW,itemHeight:p.h,calculable:false,showLabel:false,text:null,padding:0,hoverLink:false,realtime:false,inRange:{color:cmrMap}});
 const gb=grid.length;
 grid.push({left:p.bar,top:p.top,width:BW,height:p.h,show:true,borderColor:'#8a8a8a',borderWidth:1.3,backgroundColor:'transparent'});
 xAxis.push({type:'value',gridIndex:gb,show:false,min:0,max:1});
 yAxis.push(Object.assign(axisCommon(p.ticks,v=>v.toFixed(2),4),{gridIndex:gb,min:0,max:p.max,position:'right',axisLine:{show:false}}));
 title.push({text:p.lab,left:p.lx,top:p.top+1,padding:0,textStyle:{fontWeight:'normal',rich}});
 title.push({text:p.tag,left:p.tx,top:p.top+6,padding:0,textStyle:{fontFamily:labFont,fontSize:17,fontWeight:'normal',color:white}});
});
const chart=echarts.init(document.getElementById('c'),null,{renderer:'canvas'});
chart.setOption({animation:false,grid,xAxis,yAxis,series,visualMap,title});
</script></body></html>
